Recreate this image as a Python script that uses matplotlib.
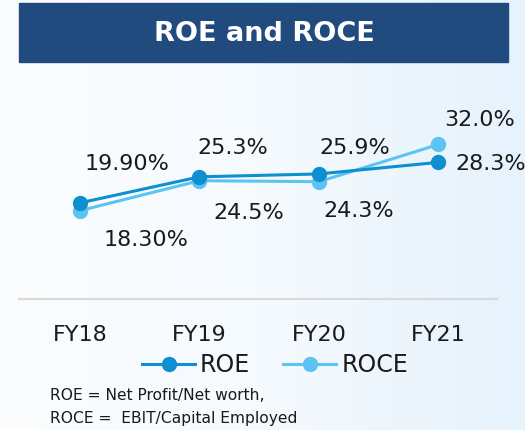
import matplotlib
matplotlib.use("Agg")
import matplotlib.pyplot as plt
import numpy as np
from matplotlib.colors import LinearSegmentedColormap
from matplotlib.patches import Rectangle

years = ["FY18", "FY19", "FY20", "FY21"]
roe = [19.9, 25.3, 25.9, 28.3]
roce = [18.3, 24.5, 24.3, 32.0]
roe_labels = ["19.90%", "25.3%", "25.9%", "28.3%"]
roce_labels = ["18.30%", "24.5%", "24.3%", "32.0%"]

roe_col = "#0E8FD0"
roce_col = "#5CC4F2"

plt.rcParams["font.family"] = ["DejaVu Sans"]

fig = plt.figure(figsize=(5.25, 4.3), dpi=100)

# fond en degrade bleu clair
bg = fig.add_axes([0, 0, 1, 1], zorder=-10)
cmap = LinearSegmentedColormap.from_list("bg", ["#FBFDFF", "#F5FAFE", "#E6F2FC"])
grad = np.linspace(0, 1, 256).reshape(1, -1)
bg.imshow(grad, aspect="auto", cmap=cmap, extent=[0, 1, 0, 1])
bg.set_xlim(0, 1)
bg.set_ylim(0, 1)
bg.axis("off")

# bandeau du titre
bg.add_patch(Rectangle((19 / 525, 1 - 62 / 430), 489 / 525, 59 / 430,
                       color="#214B7E", zorder=2))
bg.text(264 / 525, 1 - 34 / 430, "ROE and ROCE", color="white",
        fontsize=19.5, fontweight="bold", ha="center", va="center", zorder=3)

ax = fig.add_axes([19 / 525, 131 / 430, 478 / 525, 169 / 430])
ax.set_facecolor("none")
x = np.arange(len(years))
ax.plot(x, roe, color=roe_col, lw=2.2, marker="o", ms=10, label="ROE", zorder=3)
ax.plot(x, roce, color=roce_col, lw=2.2, marker="o", ms=10, label="ROCE", zorder=2)

roe_off = [(47, 39), (33, 29), (36, 26), (52, -2)]
roce_off = [(66, -29), (49, -32), (40, -29), (41, 24)]
for i in range(len(years)):
    ax.annotate(roe_labels[i], (x[i], roe[i]), xytext=roe_off[i],
                textcoords="offset pixels", ha="center", va="center", fontsize=16,
                color="#1A1A1A")
    ax.annotate(roce_labels[i], (x[i], roce[i]), xytext=roce_off[i],
                textcoords="offset pixels", ha="center", va="center", fontsize=16,
                color="#1A1A1A")

ax.set_xlim(-0.51, 3.49)
ax.set_ylim(0, 35)
ax.set_xticks(x)
ax.set_xticklabels(years, fontsize=16, color="#1A1A1A")
ax.tick_params(axis="x", length=0, pad=19)
ax.set_yticks([])
for s in ["top", "left", "right"]:
    ax.spines[s].set_visible(False)
ax.spines["bottom"].set_color("#D9D9D9")
ax.spines["bottom"].set_linewidth(1.5)

leg = fig.legend(loc="center", bbox_to_anchor=(275 / 525, 1 - 365 / 430), ncol=2,
                 frameon=False, fontsize=17, handlelength=2.25, handletextpad=0.2,
                 columnspacing=1.4)
for t in leg.get_texts():
    t.set_color("#1A1A1A")

fig.text(50 / 525, 1 - 395 / 430, "ROE = Net Profit/Net worth,", fontsize=11.2,
         va="center", color="#1A1A1A")
fig.text(50 / 525, 1 - 418 / 430, "ROCE =  EBIT/Capital Employed", fontsize=11.2,
         va="center", color="#1A1A1A")

fig.savefig("out.png", dpi=100)
